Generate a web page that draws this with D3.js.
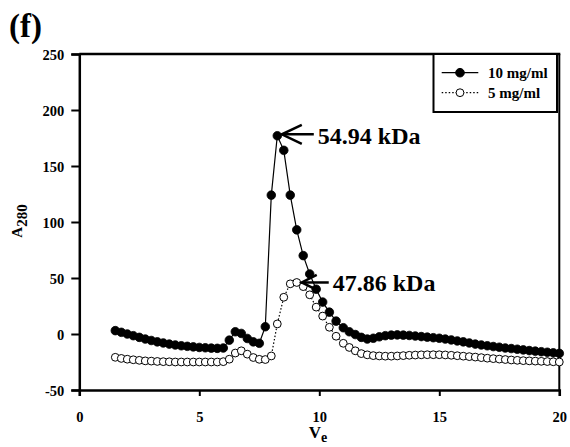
<!DOCTYPE html>
<html><head><meta charset="utf-8">
<script src="https://cdn.jsdelivr.net/npm/d3@7/dist/d3.min.js"></script>
<style>
body{margin:0;background:#fff}
svg{display:block}
text{font-family:"Liberation Serif","Times New Roman",serif;font-weight:bold;fill:#000}
</style>
</head><body>
<svg id="chart" width="570" height="447"></svg>
<script>
// Elution volume (ml)
const ve = [1.5,1.75,2,2.25,2.5,2.75,3,3.25,3.5,3.75,4,4.25,4.5,4.75,5,5.25,5.5,5.75,6,6.25,6.5,6.75,7,7.25,7.5,7.75,8,8.25,
  8.52,8.79,9.06,9.33,9.6,9.87,10.14,10.42,10.7,11,
  11.25,11.5,11.75,12,12.25,12.5,12.75,13,13.25,13.5,13.75,14,14.25,14.5,14.75,15,15.25,15.5,15.75,16,16.25,16.5,16.75,17,17.25,17.5,17.75,18,18.25,18.5,18.75,19,19.25,19.5,19.75,20];
// A280, 10 mg/ml
const a10 = [3,1.5,0,-1.5,-3,-4.5,-5.8,-7,-8,-9,-9.8,-10.5,-11,-11.5,-12,-12.3,-12.6,-12.8,-12.5,-5.5,2,0.5,-4,-7,-8.3,6.5,124,177,
  164,124,93,70,53.6,40,28.5,19.5,11.5,5.6,
  2,-0.5,-3,-4.5,-3.8,-2.5,-1.5,-1,-0.8,-1,-1.3,-1.8,-2.3,-2.8,-3.3,-3.8,-4.5,-5.3,-6.2,-7,-8,-9,-9.8,-10.5,-11.2,-11.8,-12.5,-13,-13.6,-14.2,-14.8,-15.3,-15.8,-16.3,-16.8,-17.3];
// A280, 5 mg/ml
const a5 = [-20.8,-21.8,-22.5,-23,-23.5,-24,-24.2,-24.5,-24.7,-24.8,-25,-25,-25,-25,-25,-25,-25,-25,-24.7,-22.5,-17,-15,-18,-21,-22.6,-22.8,-19.6,9,
  32.8,44.8,46,42.3,35,24,16,6,-2,-8.3,
  -12,-15,-17.5,-18.6,-19.3,-19.6,-19.8,-19.8,-19.6,-19.3,-19,-18.8,-18.6,-18.5,-18.5,-18.5,-18.7,-19,-19.4,-19.8,-20.2,-20.6,-21.1,-21.6,-22,-22.4,-22.8,-23.2,-23.5,-23.8,-24,-24.2,-24.4,-24.6,-24.8,-25];
const xTicks = [0,5,10,15,20];
const yTicks = [-50,0,50,100,150,200,250];
const seriesLabels = ["10 mg/ml","5 mg/ml"];
const peakLabels = ["54.94 kDa","47.86 kDa"];
const peakVe = [8.25, 9.06];
const peakA = [177, 46];

const svg = d3.select("#chart");
const L=79.3, R=559.3, T=54, B=390;
const x = d3.scaleLinear().domain([0,20]).range([L,R]);
const y = d3.scaleLinear().domain([-50,250]).range([B,T]);

// frame
svg.append("line").attr("x1",L).attr("x2",R+1).attr("y1",T).attr("y2",T).attr("stroke","#000").attr("stroke-width",2.5);
svg.append("line").attr("x1",R).attr("x2",R).attr("y1",T).attr("y2",B).attr("stroke","#000").attr("stroke-width",2);

// axes
const fmt = d => String(d);
const gx = svg.append("g").attr("transform",`translate(0,${B})`)
  .call(d3.axisBottom(x).tickValues(xTicks).tickSize(6).tickPadding(16).tickFormat(fmt));
const gy = svg.append("g").attr("transform",`translate(${L},0)`)
  .call(d3.axisLeft(y).tickValues(yTicks).tickSize(8).tickPadding(7).tickFormat(fmt));
[gx,gy].forEach(g=>{
  g.select(".domain").attr("stroke","#000").attr("stroke-width",2.5);
  g.selectAll(".tick line").attr("stroke","#000").attr("stroke-width",2);
  g.selectAll(".tick text").attr("font-size",14.5).attr("font-family","Liberation Serif").attr("font-weight","bold").attr("fill","#000");
});
gy.selectAll(".tick text").attr("dy","0.35em");

// data
const d10 = ve.map((v,i)=>[v,a10[i]]);
const d5 = ve.map((v,i)=>[v,a5[i]]);
const line = d3.line().x(d=>x(d[0])).y(d=>y(d[1]));

svg.append("path").datum(d10).attr("d",line).attr("fill","none").attr("stroke","#000").attr("stroke-width",1.2);
svg.append("path").datum(d5).attr("d",line).attr("fill","none").attr("stroke","#000").attr("stroke-width",1.2).attr("stroke-dasharray","1.5,2");

svg.append("g").selectAll("circle").data(d10).join("circle")
  .attr("cx",d=>x(d[0])).attr("cy",d=>y(d[1])).attr("r",4.3).attr("fill","#000").attr("stroke","#000").attr("stroke-width",0.8);
svg.append("g").selectAll("circle").data(d5).join("circle")
  .attr("cx",d=>x(d[0])).attr("cy",d=>y(d[1])).attr("r",3.9).attr("fill","#fff").attr("stroke","#000").attr("stroke-width",1);

// annotations
const arrowCfg = [{off:4.5, len:32, wx:20, wy:9.5, fs:24, dy:10},{off:5, len:27, wx:15, wy:7.5, fs:24, dy:9}];
peakLabels.forEach((lab,i)=>{
  const c = arrowCfg[i];
  const tx = x(peakVe[i]) + c.off, ty = y(peakA[i]) + (i===0 ? -1.5 : 0);
  const g = svg.append("g");
  g.append("line").attr("x1",tx).attr("y1",ty).attr("x2",tx+c.len).attr("y2",ty).attr("stroke","#000").attr("stroke-width",2.5);
  g.append("path").attr("d",`M${tx+c.wx},${ty-c.wy}L${tx},${ty}L${tx+c.wx},${ty+c.wy}`).attr("fill","none").attr("stroke","#000").attr("stroke-width",2.5);
  g.append("text").attr("x",tx+c.len+4).attr("y",ty+c.dy).attr("font-size",c.fs).text(lab);
});

// legend
const lg = svg.append("g");
lg.append("rect").attr("x",433.5).attr("y",T).attr("width",123.5).attr("height",58).attr("fill","#fff").attr("stroke","#000").attr("stroke-width",2);
[0,1].forEach(i=>{
  const ly = 72.7 + i*20;
  lg.append("line").attr("x1",441.7).attr("x2",478.3).attr("y1",ly).attr("y2",ly).attr("stroke","#000").attr("stroke-width",1.2)
    .attr("stroke-dasharray", i===1 ? "1.5,2" : null);
  lg.append("circle").attr("cx",460).attr("cy",ly).attr("r",i===0?4.3:3.9).attr("fill",i===0?"#000":"#fff").attr("stroke","#000").attr("stroke-width",1);
  lg.append("text").attr("x",488).attr("y",ly+5).attr("font-size",15).text(seriesLabels[i]);
});

// axis titles
const yt = svg.append("text").attr("transform","translate(22,221) rotate(-90)").attr("text-anchor","middle").attr("font-size",15);
yt.append("tspan").text("A");
yt.append("tspan").attr("font-size",15).attr("dy",5).text("280");
const xt = svg.append("text").attr("x",318).attr("y",438).attr("text-anchor","middle").attr("font-size",17);
xt.append("tspan").text("V");
xt.append("tspan").attr("font-size",14).attr("dy",4).text("e");

// panel tag
svg.append("text").attr("x",9).attr("y",37).attr("font-size",33).text("(f)");
</script>
</body></html>
